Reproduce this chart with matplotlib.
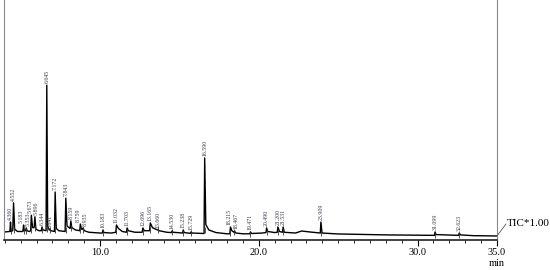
# GC-MS total ion chromatogram (TIC)

import numpy as np
import matplotlib.pyplot as plt
from matplotlib.lines import Line2D

plt.rcParams['font.family'] = ['Liberation Serif', 'DejaVu Serif']

# labelled peaks: retention time (min) and apex height (relative)
peak_rt = [4.360, 4.552, 5.183, 5.353, 5.673, 5.896, 6.344, 6.645, 6.841, 7.172,
           7.843, 8.159, 8.759, 8.935, 10.183, 11.032, 11.703, 12.696, 13.165,
           13.660, 14.530, 15.238, 15.729, 16.590, 18.215, 18.467, 19.471,
           20.490, 21.200, 21.531, 23.909, 31.099, 32.623]
peak_h = [11.6, 24.0, 9.7, 7.8, 16.0, 15.0, 8.4, 100.0, 6.5, 31.0,
          27.0, 12.3, 10.3, 7.8, 6.5, 9.7, 7.8, 7.8, 11.0,
          6.5, 5.8, 6.5, 5.2, 53.0, 8.4, 5.8, 5.2,
          7.8, 8.4, 8.4, 11.6, 5.2, 4.5]
peak_lbl = ['4.360', '4.552', '5.183', '5.353', '5.673', '5.896', '6.344', '6.645',
            '6.841', '7.172', '7.843', '8.159', '8.759', '8.935', '10.183', '11.032',
            '11.703', '12.696', '13.165', '13.660', '14.530', '15.238', '15.729',
            '16.590', '18.215', '18.467', '19.471', '20.490', '21.200', '21.531',
            '23.909', '31.099', '32.623']

# baseline / valley points between the peaks
base_t = [4.00, 4.32, 4.40, 4.50, 4.62, 4.80, 5.14, 5.23, 5.31, 5.40, 5.55, 5.63,
          5.75, 5.85, 5.96, 6.15, 6.30, 6.40, 6.60, 6.70, 6.80, 6.90, 7.13, 7.24,
          7.40, 7.80, 7.92, 8.05, 8.12, 8.22, 8.45, 8.72, 8.83, 8.90, 9.00, 9.30,
          10.00, 10.14, 10.24, 10.70, 10.99, 11.15, 11.40, 11.66, 11.78, 12.20,
          12.65, 12.78, 13.12, 13.30, 13.50, 13.62, 13.72, 14.20, 14.49, 14.60,
          15.20, 15.30, 15.69, 15.80, 16.55, 16.66, 16.85, 17.30, 18.00, 18.17,
          18.30, 18.43, 18.55, 19.00, 19.43, 19.55, 20.20, 20.45, 20.56, 21.00,
          21.16, 21.30, 21.49, 21.60, 22.30, 22.70, 23.20, 23.87, 23.98, 25.00,
          28.00, 31.06, 31.16, 32.58, 32.70, 33.50, 35.00]
base_y = [5.2, 5.5, 5.5, 6.0, 7.0, 5.5, 5.5, 6.0, 6.0, 6.0, 5.5, 6.0,
          8.0, 8.0, 7.0, 6.0, 6.0, 6.5, 6.0, 9.0, 6.5, 6.0, 5.5, 7.5,
          6.0, 5.5, 9.0, 8.0, 7.5, 8.0, 6.5, 6.0, 7.0, 7.0, 6.0, 5.0,
          4.5, 4.5, 4.8, 4.5, 5.0, 7.5, 5.5, 5.0, 6.0, 5.0,
          5.0, 6.0, 6.0, 8.0, 7.0, 6.5, 6.0, 5.0, 4.8, 5.0,
          4.5, 4.8, 4.3, 4.5, 4.2, 10.0, 6.5, 4.8, 4.0, 4.0,
          6.0, 5.0, 4.5, 4.0, 4.0, 4.2, 4.5, 4.8, 5.5, 4.8,
          5.0, 5.5, 5.0, 5.0, 4.5, 5.8, 5.2, 4.5, 4.5, 3.9,
          3.3, 3.0, 3.5, 3.0, 3.3, 2.8, 2.6]

# small sideways nudges (points) for labels of peaks that sit close together
nudge = {'5.183': -1.5, '5.353': 1.5, '5.673': -1.0, '5.896': 1.0,
         '8.759': -1.5, '8.935': 1.5, '18.215': -1.0, '18.467': 1.0}

t = np.array(base_t + peak_rt)
y = np.array(base_y + peak_h)
order = np.argsort(t)
t, y = t[order], y[order]

fig = plt.figure(figsize=(5.5, 2.7), dpi=100)
ax = fig.add_axes([4/550, 30/270, 493/550, 240/270])

ax.plot(t, y, color='black', lw=1.0)

# peak marks on the baseline
mark_y = np.interp(peak_rt, base_t, base_y)
ax.plot(peak_rt, mark_y, ls='none', marker='|', ms=4, mew=0.6, color='#333333')

for rt, h, s in zip(peak_rt, peak_h, peak_lbl):
    ax.annotate(s, (rt, h), xytext=(nudge.get(s, 0), 1.5), textcoords='offset points',
                rotation=90, ha='center', va='bottom', fontsize=4.2, color='#3a3a50')

ax.set_xlim(3.95, 35.0)
ax.set_ylim(0, 155)

ax.set_xticks([10, 20, 30, 35])
ax.set_xticklabels(['10.0', '20.0', '30.0', '35.0'], fontsize=7.5)
ax.set_xticks(np.arange(4, 35), minor=True)
ax.tick_params(axis='x', which='major', length=4, width=0.8, pad=2)
ax.tick_params(axis='x', which='minor', length=2.5, width=0.6)
ax.set_yticks([])

ax.spines['top'].set_visible(False)
ax.spines['left'].set_color('#888888')
ax.spines['right'].set_color('#888888')
ax.spines['bottom'].set_linewidth(1.2)
ax.spines['bottom'].set_color('#222222')
ax.patch.set_visible(False)

fig.text(497/550, 1 - 263/270, 'min', ha='center', va='center', fontsize=7.5)
fig.add_artist(Line2D([497/550, 506/550], [1 - 236/270, 1 - 224/270],
                      transform=fig.transFigure, color='#555555', lw=0.6))
fig.text(507/550, 1 - 224/270, 'TIC*1.00', ha='left', va='center', fontsize=8)

fig.savefig('out.png', dpi=100)
